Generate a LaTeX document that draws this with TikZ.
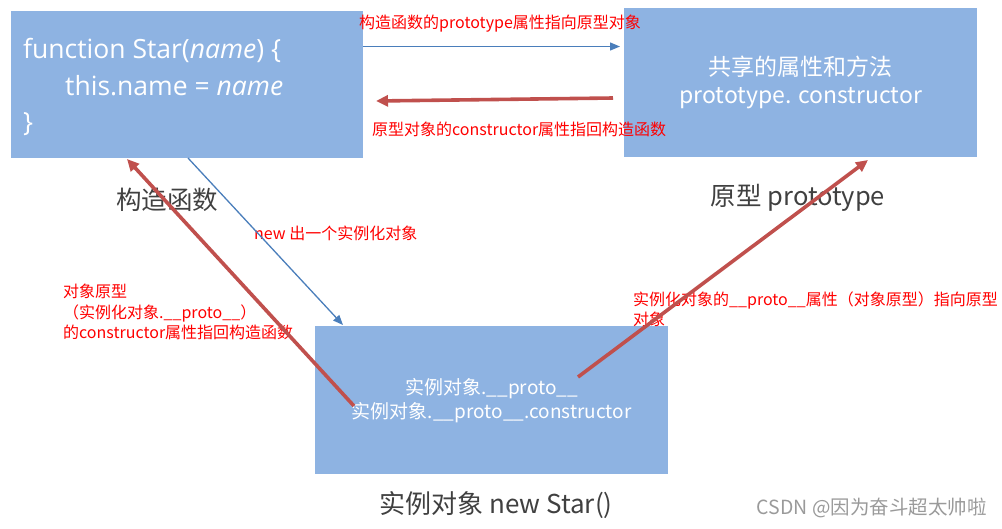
\documentclass[tikz,border=0pt]{standalone}
\usepackage{fontspec}
\setmainfont{Noto Sans CJK SC}
\newfontfamily\latinf{Open Sans}
\usetikzlibrary{arrows.meta}
\definecolor{boxblue}{HTML}{8EB3E2}
\definecolor{arrred}{HTML}{C0504D}
\definecolor{arrblue}{HTML}{4A7EBB}
\definecolor{lblgray}{HTML}{404040}
\definecolor{markgray}{HTML}{9A9A9A}
\begin{document}
\begin{tikzpicture}[x=1pt,y=-1pt,
  box/.style={fill=boxblue, draw=none, anchor=north west, inner sep=0pt, text=white, align=center},
  caption/.style={text=lblgray, inner sep=0pt, font=\fontsize{25.5}{30}\selectfont},
  note/.style={text=red, inner sep=0pt, font=\fontsize{16}{20.5}\selectfont, align=left},
  thin/.style={draw=arrblue, line width=1.3pt, -{Triangle[length=10pt,width=8pt]}},
  thick/.style={draw=arrred, line width=3.6pt, -{Triangle[length=12pt,width=11pt]}}
]
\useasboundingbox (0,0) rectangle (1002,528);
% boxes
\node[box, minimum width=352pt, minimum height=147pt] (ctor) at (11,11) {};
\node[text=white, anchor=west, inner sep=0pt, align=left, font=\latinf\fontsize{26.5}{36.5}\selectfont] (code) at (23,87)
  {function Star(\textit{name}) \{\\\hspace*{42pt}this.name = \textit{name}\\\}};
\node[box, minimum width=353pt, minimum height=149pt, font=\fontsize{23}{28}\selectfont] (proto) at (624,8)
  {共享的属性和方法\\prototype. constructor};
\node[box, minimum width=353pt, minimum height=148pt, font=\fontsize{19}{24}\selectfont] (inst) at (315,326)
  {实例对象.\_\_proto\_\_\\实例对象.\_\_proto\_\_.constructor};
% captions
\node[caption] (capc) at (167,200) {构造函数};
\node[caption] (capp) at (798,198) {原型 prototype};
\node[caption, font=\fontsize{26}{30}\selectfont] (capi) at (496,505) {实例对象 new Star()};
% notes
\node[note, anchor=west] (n1) at (359,24) {构造函数的prototype属性指向原型对象};
\node[note, anchor=west] (n2) at (372,129) {原型对象的constructor属性指回构造函数};
\node[note, anchor=west] (n3) at (254,233) {new 出一个实例化对象};
\node[note, anchor=west] (n4) at (63,312) {对象原型\\（实例化对象.\_\_proto\_\_）\\的constructor属性指回构造函数};
\node[note, anchor=west] (n5) at (633,309.5) {实例化对象的\_\_proto\_\_属性（对象原型）指向原型\\对象};
\node[text=markgray, anchor=east, inner sep=0pt, font=\fontsize{19.5}{22}\selectfont] (mark) at (987,508) {CSDN @因为奋斗超太帅啦};
% connector ends
\coordinate (a1s) at (363,46.5);
\coordinate (a1e) at (620,46.5);
\coordinate (a2s) at (613,98);
\coordinate (a2e) at (376,101);
\coordinate (a3s) at (188,158);
\coordinate (a3e) at (343,325);
\coordinate (a4s) at (354,406);
\coordinate (a4e) at (127,159);
\coordinate (a5s) at (578,377);
\coordinate (a5e) at (868,160);
% connectors
\draw[thin] (a1s) -- (a1e);
\draw[thick] (a2s) -- (a2e);
\draw[thin] (a3s) -- (a3e);
\draw[thick] (a4s) -- (a4e);
\draw[thick] (a5s) -- (a5e);
\end{tikzpicture}
\end{document}
